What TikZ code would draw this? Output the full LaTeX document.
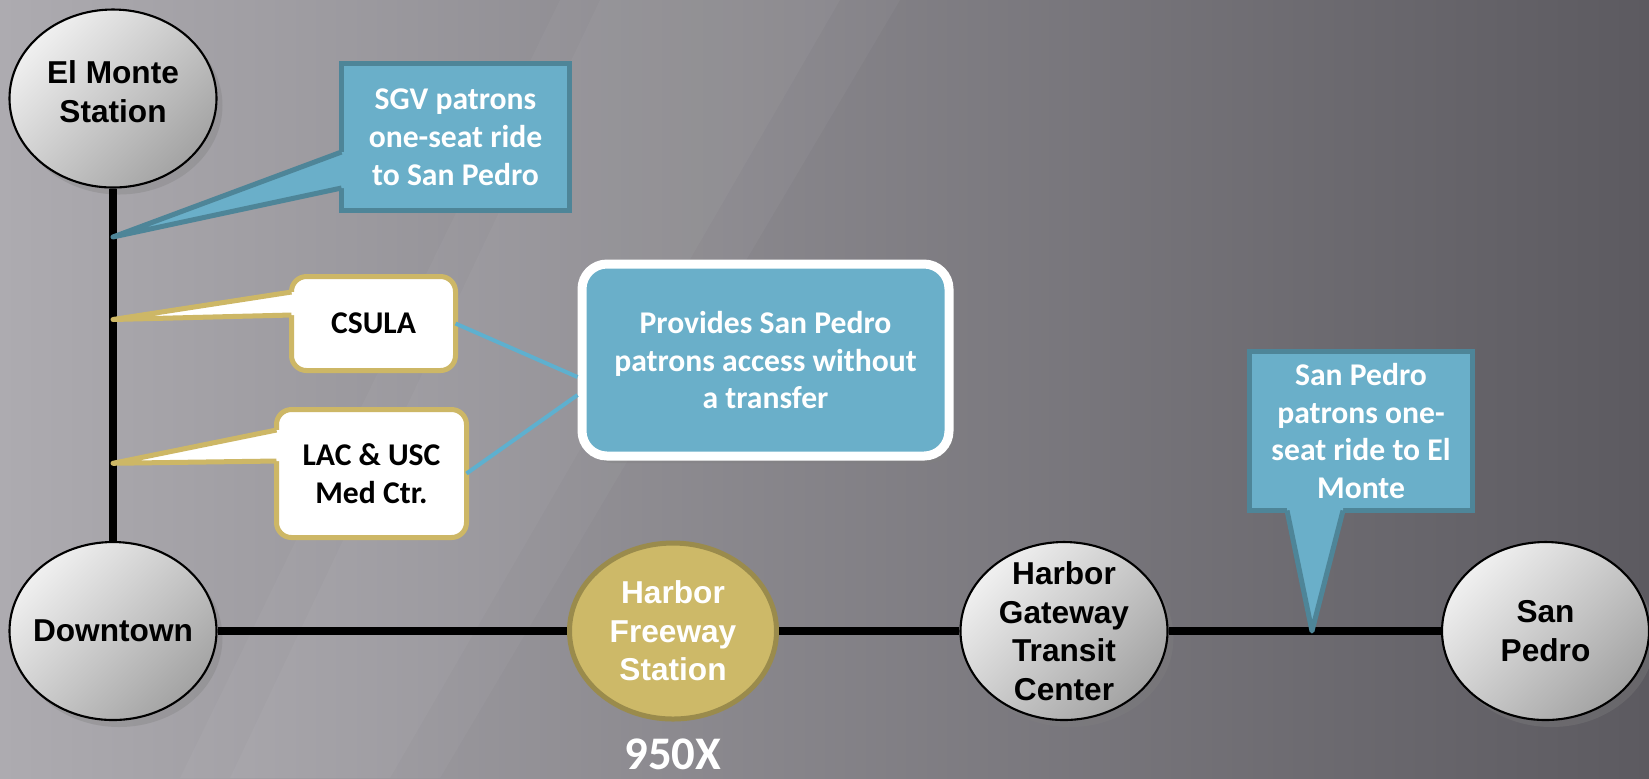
\documentclass[tikz,border=0pt]{standalone}
\usepackage{fontspec}
\setmainfont{Liberation Sans}
\newfontfamily\calibri{Carlito}
\usepackage{tikz}
\usetikzlibrary{shapes.geometric,shadows,calc}

\definecolor{bgleft}{HTML}{ADABB0}
\definecolor{bgmid}{HTML}{7B7980}
\definecolor{bgright}{HTML}{5C5A60}
\definecolor{callblue}{HTML}{6AAFC9}
\definecolor{calledge}{HTML}{4E8598}
\definecolor{linkblue}{HTML}{5EB0CF}
\definecolor{goldline}{HTML}{CDB766}
\definecolor{goldfill}{HTML}{CDB968}
\definecolor{golddark}{HTML}{9A8B4C}

\begin{document}
\begin{tikzpicture}[
		station/.style={draw=black, line width=0.6pt, ellipse, inner sep=0pt, minimum width=2.07cm, minimum height=1.78cm,
			top color=white!94!black, bottom color=black!36, shading angle=45,
			drop shadow={shadow xshift=0.06cm, shadow yshift=-0.07cm, opacity=0.35}},
		hub/.style={draw=golddark, fill=goldfill, line width=0.05cm, ellipse, inner sep=0pt, minimum width=2.07cm, minimum height=1.76cm},
		stext/.style={align=center, font=\fontsize{9}{11}\selectfont\bfseries},
		track/.style={line width=0.075cm, black},
		streak/.style={white, opacity=0.035},
		bluebox/.style={fill=callblue, draw=calledge, line width=0.05cm, outer sep=0pt, inner sep=0pt, align=center, text=white,
			font=\calibri\fontsize{9}{10.8}\selectfont\bfseries},
		notebox/.style={fill=white, draw=goldline, line width=0.05cm, rounded corners=0.15cm, outer sep=0pt, inner sep=0pt, align=center,
			font=\calibri\fontsize{9}{10.8}\selectfont\bfseries},
		infobox/.style={fill=callblue, draw=white, line width=0.09cm, rounded corners=0.25cm, inner sep=0pt, align=center, text=white,
			drop shadow={shadow xshift=0.06cm, shadow yshift=-0.07cm, opacity=0.35},
			font=\calibri\fontsize{9}{10.8}\selectfont\bfseries},
		link/.style={linkblue, line width=0.04cm}
	]
		\useasboundingbox (0,0) rectangle (16.49,-7.78);
		\shade[left color=bgleft, middle color=bgmid, right color=bgright] (0,0) rectangle (16.49,-7.78);
		% soft diagonal streaks
		\fill[streak] (5.6,0) -- (9.0,0) -- (4.4,-7.78) -- (1.8,-7.78) -- cycle;
		\fill[streak] (6.0,0) -- (8.4,0) -- (3.9,-7.78) -- (2.3,-7.78) -- cycle;
		
		% stations
		\node[station] (elmonte) at (1.13,-0.985) {};
		\node[station] (downtown) at (1.13,-6.31) {};
		\node[hub] (harborfwy) at (6.73,-6.31) {};
		\node[station] (gateway) at (10.64,-6.31) {};
		\node[station] (sanpedro) at (15.455,-6.31) {};
		
		\node[stext] (elmontetext) at ([yshift=0.07cm]elmonte) {El Monte\\Station};
		\node[stext] (downtowntext) at (downtown) {Downtown};
		\node[stext, text=white] (harborfwytext) at (harborfwy) {Harbor\\Freeway\\Station};
		\node[stext] (gatewaytext) at (gateway) {Harbor\\Gateway\\Transit\\Center};
		\node[stext] (sanpedrotext) at (sanpedro) {San\\Pedro};
		\node[text=white, font=\calibri\fontsize{13.3}{15}\selectfont\bfseries] (routeno) at (6.73,-7.54) {950X};
		
		% the line
		\draw[track] (elmonte) -- (downtown);
		\draw[track] (downtown) -- (harborfwy);
		\draw[track] (harborfwy) -- (gateway);
		\draw[track] (gateway) -- (sanpedro);
		
		\coordinate (sgvtip) at ($(elmonte)!0.26!(downtown)$);
		\coordinate (csulatip) at ($(elmonte)!0.415!(downtown)$);
		\coordinate (lactip) at ($(elmonte)!0.685!(downtown)$);
		\coordinate (sptip) at ($(gateway)!0.515!(sanpedro)$);
		
		% callouts
		\node[bluebox, minimum width=2.28cm, minimum height=1.47cm] (sgv) at (4.555,-1.37) {SGV patrons\\one-seat ride\\to San Pedro};
		\fill[callblue] ([xshift=0.06cm,yshift=-0.15cm]sgv.west) -- ([yshift=-0.15cm]sgv.west) -- (sgvtip)
			-- ([yshift=-0.51cm]sgv.west) -- ([xshift=0.06cm,yshift=-0.51cm]sgv.west) -- cycle;
		\draw[calledge, line width=0.05cm, line join=round] ([yshift=-0.15cm]sgv.west) -- (sgvtip) -- ([yshift=-0.51cm]sgv.west);
		
		\node[bluebox, minimum width=2.23cm, minimum height=1.59cm] (spnote) at (13.61,-4.31) {San Pedro\\patrons one-\\seat ride to El\\Monte};
		\fill[callblue] ([xshift=-0.74cm,yshift=0.06cm]spnote.south) -- ([xshift=-0.74cm]spnote.south) -- (sptip)
			-- ([xshift=-0.18cm]spnote.south) -- ([xshift=-0.18cm,yshift=0.06cm]spnote.south) -- cycle;
		\draw[calledge, line width=0.05cm, line join=round] ([xshift=-0.74cm]spnote.south) -- (sptip) -- ([xshift=-0.18cm]spnote.south);
		
		\node[notebox, minimum width=1.64cm, minimum height=0.94cm] (csula) at (3.735,-3.235) {CSULA};
		\fill[white] ([xshift=0.06cm,yshift=0.315cm]csula.west) -- ([yshift=0.315cm]csula.west) -- (csulatip)
			-- ([yshift=0.085cm]csula.west) -- ([xshift=0.06cm,yshift=0.085cm]csula.west) -- cycle;
		\draw[goldline, line width=0.05cm, line join=round] ([yshift=0.315cm]csula.west) -- (csulatip) -- ([yshift=0.085cm]csula.west);
		
		\node[notebox, minimum width=1.90cm, minimum height=1.28cm] (lac) at (3.715,-4.735) {LAC \& USC\\Med Ctr.};
		\fill[white] ([xshift=0.06cm,yshift=0.435cm]lac.west) -- ([yshift=0.435cm]lac.west) -- (lactip)
			-- ([yshift=0.125cm]lac.west) -- ([xshift=0.06cm,yshift=0.125cm]lac.west) -- cycle;
		\draw[goldline, line width=0.05cm, line join=round] ([yshift=0.435cm]lac.west) -- (lactip) -- ([yshift=0.125cm]lac.west);
		
		\node[infobox, minimum width=3.67cm, minimum height=1.92cm] (provides) at (7.655,-3.60) {Provides San Pedro\\patrons access without\\a transfer};
		
		\draw[link] (csula.east) -- ([yshift=-0.17cm]provides.west);
		\draw[link] (lac.east) -- ([yshift=-0.35cm]provides.west);
		\end{tikzpicture}
\end{document}
